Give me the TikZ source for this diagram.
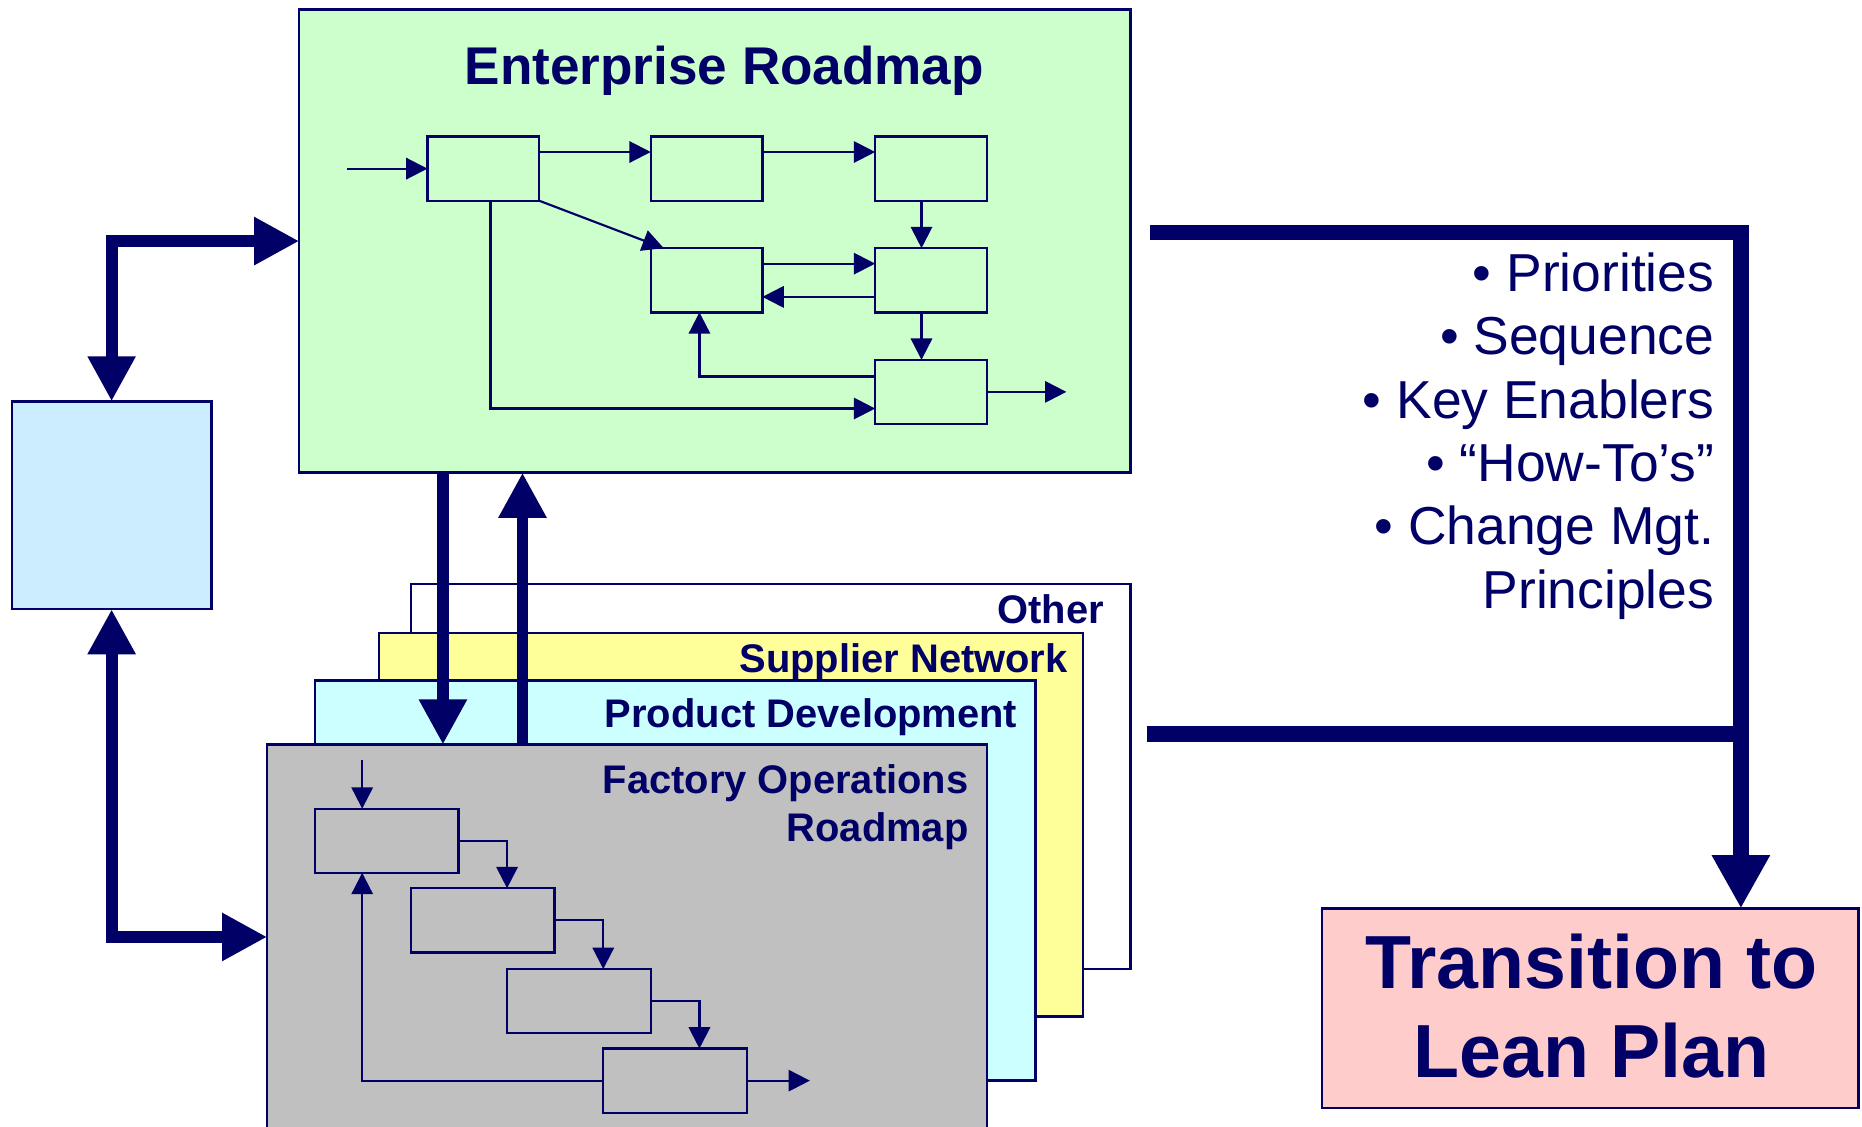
\documentclass[tikz,border=0pt]{standalone}
\usepackage{fontspec}
\setmainfont{Liberation Sans}
\usetikzlibrary{arrows.meta,calc}
\definecolor{navy}{HTML}{000066}
\definecolor{ergreen}{HTML}{CCFFCC}
\definecolor{lblue}{HTML}{CCECFF}
\definecolor{lcyan}{HTML}{CCFFFF}
\definecolor{lyellow}{HTML}{FFFF99}
\definecolor{lgray}{HTML}{C0C0C0}
\definecolor{lpink}{HTML}{FFCCCC}
\begin{document}
\begin{tikzpicture}[x=0.5pt,y=-0.5pt,
  box/.style={draw=navy,line width=1pt,inner sep=0pt,outer sep=0pt},
  panel/.style={box,minimum width=303pt,minimum height=162pt},
  step box/.style={box,minimum width=47pt,minimum height=27pt},
  gstep box/.style={box,minimum width=60.5pt,minimum height=27pt},
  thin arrow/.style={draw=navy,line width=0.9pt,-{Triangle[length=9pt,width=9pt]}},
  fat/.style={draw=navy,line width=5pt},
  fat tip/.tip={Triangle[length=19pt,width=19pt]},
  wide/.style={draw=navy,line width=6.5pt},
  label text/.style={text=navy,inner sep=0pt,font=\bfseries\fontsize{16.8pt}{20pt}\selectfont},
  bullet text/.style={text=navy,inner sep=0pt,anchor=base east,font=\fontsize{22.5pt}{27pt}\selectfont}]
\useasboundingbox (0,0) rectangle (1568,949);

% ---- Enterprise roadmap panel ----
\node[box,fill=ergreen,minimum width=350pt,minimum height=195pt] (er) at (602,203) {};
\node[text=navy,inner sep=0pt,anchor=base,font=\bfseries\fontsize{22.35pt}{26pt}\selectfont] (ertitle) at (610,71) {Enterprise Roadmap};

\node[step box] (a) at (407,142) {};
\node[step box] (b) at (595,142) {};
\node[step box] (c) at (784,142) {};
\node[step box] (d) at (595,236) {};
\node[step box] (e) at (784,236) {};
\node[step box] (f) at (784,330) {};

\draw[thin arrow] ($(a.west)+(-68,0)$) -- (a.west);
\draw[thin arrow] ($(a.east)+(0,-14)$) -- ($(b.west)+(0,-14)$);
\draw[thin arrow] ($(b.east)+(0,-14)$) -- ($(c.west)+(0,-14)$);
\draw[thin arrow] ($(c.south)+(-8,0)$) -- ($(e.north)+(-8,0)$);
\draw[thin arrow] (a.south east) -- ($(d.north west)+(11,0)$);
\draw[thin arrow] ($(d.east)+(0,-14)$) -- ($(e.west)+(0,-14)$);
\draw[thin arrow] ($(e.west)+(0,14)$) -- ($(d.east)+(0,14)$);
\draw[thin arrow] ($(e.south)+(-8,0)$) -- ($(f.north)+(-8,0)$);
\draw[thin arrow] ($(f.west)+(0,-13)$) -| ($(d.south)+(-6,0)$);
\draw[thin arrow] ($(a.south)+(6,0)$) |- ($(f.west)+(0,14)$);
\draw[thin arrow] (f.east) -- ++(67,0);

% ---- side box ----
\node[box,fill=lblue,minimum width=84pt,minimum height=87.5pt] (side) at (94,425.5) {};

% ---- stacked roadmap panels ----
\node[panel,fill=white] (other) at (649,654) {};
\node[label text,anchor=base east] (othert) at (930,525) {Other};
\node[panel,fill=lyellow,minimum width=296.5pt,minimum height=161.5pt] (sup) at (615.5,694.5) {};
\node[label text,anchor=base east] (supt) at (899.5,566) {Supplier Network};
\node[panel,fill=lcyan,minimum width=303.5pt,minimum height=168.5pt] (pd) at (568.5,741.5) {};
\node[label text,anchor=base east] (pdt) at (857,612.6) {Product Development};
\node[panel,fill=lgray] (fo) at (528,789) {};
\node[label text,anchor=base east] (fot1) at (816,668.5) {Factory Operations};
\node[label text,anchor=base east] (fot2) at (816,709) {Roadmap};

\node[gstep box] (g1) at (325.5,708) {};
\node[gstep box] (g2) at (406.5,775) {};
\node[gstep box] (g3) at (487.5,843) {};
\node[gstep box] (g4) at (568.5,910) {};

\draw[thin arrow] ($(g1.north)+(-20.5,-41)$) -- ($(g1.north)+(-20.5,0)$);
\draw[thin arrow] (g1.east) -| ($(g2.north)+(20.5,0)$);
\draw[thin arrow] (g2.east) -| ($(g3.north)+(20.5,0)$);
\draw[thin arrow] (g3.east) -| ($(g4.north)+(20.5,0)$);
\draw[thin arrow] (g4.west) -| ($(g1.south)+(-20.5,0)$);
\draw[thin arrow] (g4.east) -- ++(53,0);

% ---- thick links ----
\draw[fat,fat tip-fat tip] (side.north) |- (er.west);
\draw[fat,fat tip-fat tip] (side.south) |- (fo.west);
\draw[fat,-fat tip] ($(er.south west)+(121,0)$) -- ($(fo.north west)+(148,0)$);
\draw[fat,fat tip-] ($(er.south west)+(188,0)$) -- ($(fo.north west)+(215,0)$);

% ---- outcome ----
\node[box,fill=lpink,minimum width=226pt,minimum height=84pt] (pk) at (1339,849) {};
\node[text=navy,inner sep=0pt,anchor=base,font=\bfseries\fontsize{31.7pt}{37pt}\selectfont] (pkt1) at (1340,832.7) {Transition to};
\node[text=navy,inner sep=0pt,anchor=base,font=\bfseries\fontsize{31.7pt}{37pt}\selectfont] (pkt2) at (1340,907.4) {Lean Plan};

\coordinate (r1) at (968,196);
\coordinate (r2) at (966,618);
\coordinate (rx) at ($(pk.north)+(127,0)$);
\draw[wide,-{Triangle[length=22.5pt,width=23pt]}] (r1) -| (rx);
\draw[wide] (r2) -- (r2 -| rx);

\node[bullet text] (l1) at (1444,245.6) {• Priorities};
\node[bullet text] (l2) at (1444,298.9) {• Sequence};
\node[bullet text] (l3) at (1444,352.2) {• Key Enablers};
\node[bullet text] (l4) at (1444,405.5) {• “How-To’s”};
\node[bullet text] (l5) at (1444,458.8) {• Change Mgt.};
\node[bullet text] (l6) at (1444,512.1) {Principles};
\end{tikzpicture}
\end{document}
